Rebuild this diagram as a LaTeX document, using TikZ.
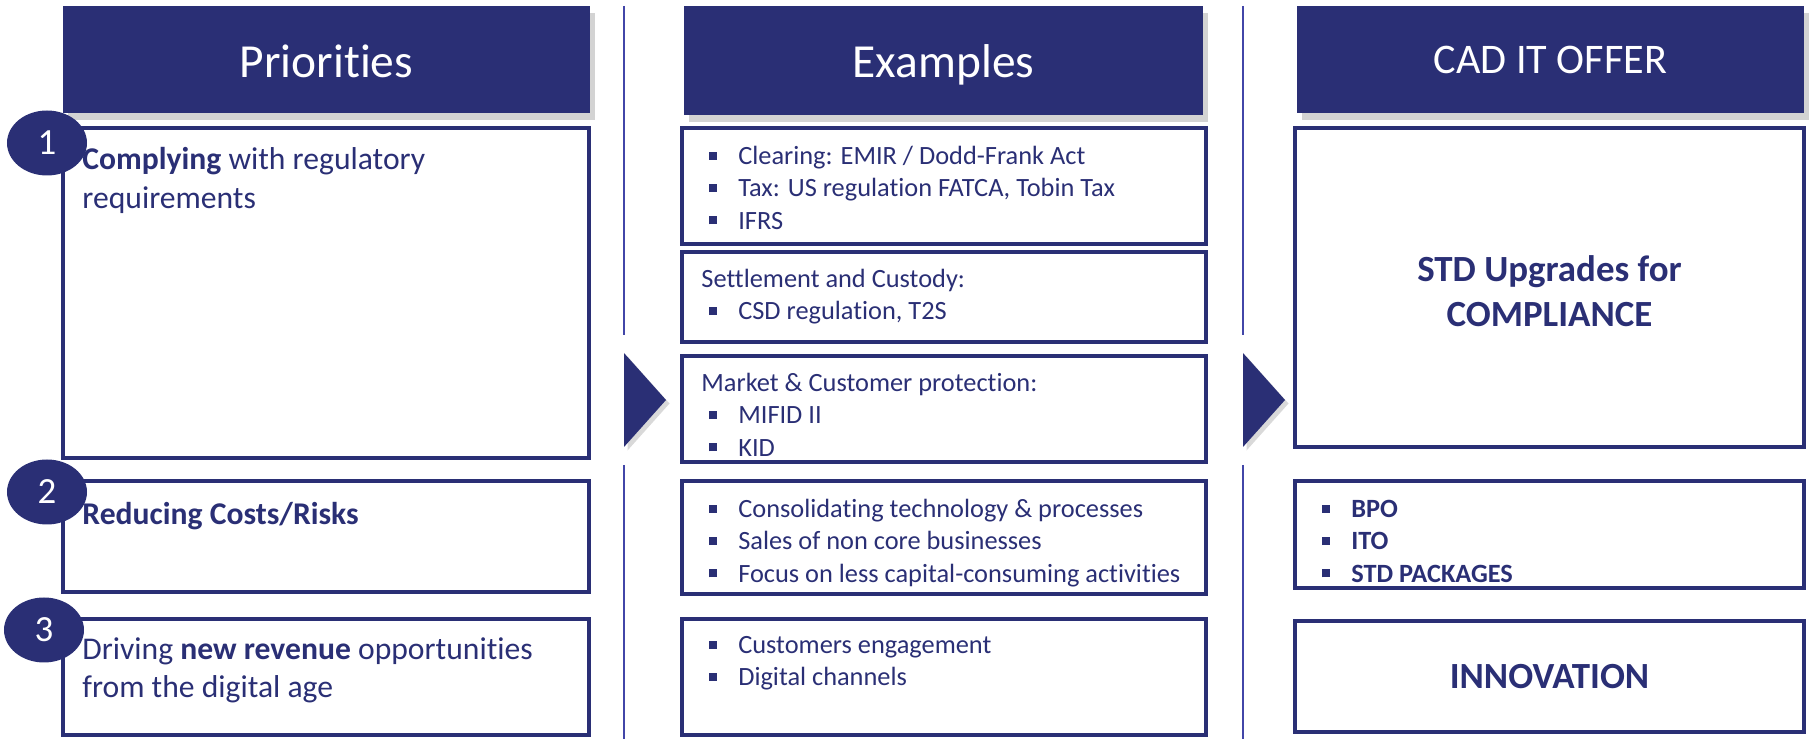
\documentclass[tikz,border=0pt]{standalone}
\usepackage{fontspec}
\setmainfont{Carlito}[Ligatures=NoCommon]
\usetikzlibrary{positioning, fit, shadows, shapes.geometric}

\definecolor{navy}{RGB}{42,47,117}
\definecolor{rulecol}{RGB}{66,70,168}

% square bullet for the list lines
\newcommand{\itm}{\makebox[1.4em][l]{\hspace{0.3em}\rule[0.18em]{0.3em}{0.3em}}}

\begin{document}
\begin{tikzpicture}[x=0.2mm, y=-0.2mm,
  head/.style={fill=navy, inner sep=0pt,
    drop shadow={shadow xshift=3pt, shadow yshift=-4pt, opacity=0.35}},
  htext/.style={anchor=base, text=white, inner sep=0pt, font=\fontsize{27}{32}\selectfont},
  box/.style={draw=navy, line width=2.2pt, inner sep=0pt},
  num/.style={ellipse, fill=navy, text=white, minimum width=16mm, minimum height=13mm,
    inner sep=0pt, font=\fontsize{21}{25}\selectfont},
  ptext/.style={anchor=north west, inner sep=0pt, align=left, text=navy,
    font=\fontsize{18}{22}\selectfont},
  etext/.style={anchor=north west, inner sep=0pt, align=left, text=navy,
    font=\fontsize{15}{18.3}\selectfont},
  big/.style={text=navy, align=center, font=\bfseries\fontsize{21}{25.5}\selectfont},
  arr/.style={fill=navy, drop shadow={shadow xshift=2pt, shadow yshift=-2pt, opacity=0.3}},
  divider/.style={draw=rulecol, line width=1pt}]
  \useasboundingbox (0,0) rectangle (1810,739);

  % column dividers and arrows
  \draw[divider] (624,6) -- (624,335) (624,465) -- (624,739);
  \draw[divider] (1243,6) -- (1243,335) (1243,465) -- (1243,739);
  \fill[arr] (624,353) -- (666,400) -- (624,447) -- cycle;
  \fill[arr] (1243,353) -- (1285,400) -- (1243,447) -- cycle;

  % headers
  \node[head, fit={(63,6) (590,113)}] (hprio) {};
  \node[head, fit={(684,6) (1203,115)}] (hexam) {};
  \node[head, fit={(1297,6) (1804,113)}] (hoffer) {};
  \node[htext] (lprio) at (hprio.center |- 0,78) {Priorities};
  \node[htext] (lexam) at (hexam.center |- 0,78) {Examples};
  \node[htext, font=\fontsize{24}{29}\selectfont] (loffer) at (hoffer.center |- 0,74) {CAD IT OFFER};

  % priorities
  \node[box, fit={(63,128) (589,458)}] (p1) {};
  \node[box, fit={(63,481) (589,592)}] (p2) {};
  \node[box, fit={(63,619) (589,735)}] (p3) {};
  \node[ptext] (t1) at ([shift={(21,21)}]p1.north west)
    {\textbf{Complying} with regulatory\\requirements};
  \node[ptext] (t2) at ([shift={(21,23)}]p2.north west) {\textbf{Reducing Costs/Risks}};
  \node[ptext] (t3) at ([shift={(21,20)}]p3.north west)
    {Driving \textbf{new revenue} opportunities\\from the digital age};
  \node[num] (n1) at (47,143) {1};
  \node[num] (n2) at (47,492) {2};
  \node[num] (n3) at (44,630) {3};

  % examples
  \node[box, fit={(682,128) (1206,244)}] (ea) {};
  \node[box, fit={(682,252) (1206,342)}] (eb) {};
  \node[box, fit={(682,356) (1206,462)}] (ec) {};
  \node[box, fit={(682,481) (1206,594)}] (ed) {};
  \node[box, fit={(682,619) (1206,735)}] (ee) {};
  \node[etext] (ta) at ([shift={(21,20)}]ea.north west)
    {\itm Clearing: EMIR / Dodd-Frank Act\\\itm Tax: US regulation FATCA, Tobin Tax\\\itm IFRS};
  \node[etext] (tb) at ([shift={(21,19)}]eb.north west)
    {Settlement and Custody:\\\itm CSD regulation, T2S};
  \node[etext] (tc) at ([shift={(21,19)}]ec.north west)
    {Market \& Customer protection:\\\itm MIFID II\\\itm KID};
  \node[etext] (td) at ([shift={(21,20)}]ed.north west)
    {\itm Consolidating technology \& processes\\\itm Sales of non core businesses\\
     \itm Focus on less capital-consuming activities};
  \node[etext] (te) at ([shift={(21,19)}]ee.north west)
    {\itm Customers engagement\\\itm Digital channels};

  % offer
  \node[box, fit={(1295,128) (1804,447)}] (oa) {};
  \node[box, fit={(1295,481) (1804,588)}] (ob) {};
  \node[box, fit={(1295,621) (1804,732)}] (oc) {};
  \node[big] (toa) at ([yshift=-2]oa.center) {STD Upgrades for\\COMPLIANCE};
  \node[etext, font=\bfseries\fontsize{15}{18.3}\selectfont] (tob) at ([shift={(21,21)}]ob.north west)
    {\itm BPO\\\itm ITO\\\itm STD PACKAGES};
  \node[big] (toc) at (oc) {INNOVATION};
\end{tikzpicture}
\end{document}
